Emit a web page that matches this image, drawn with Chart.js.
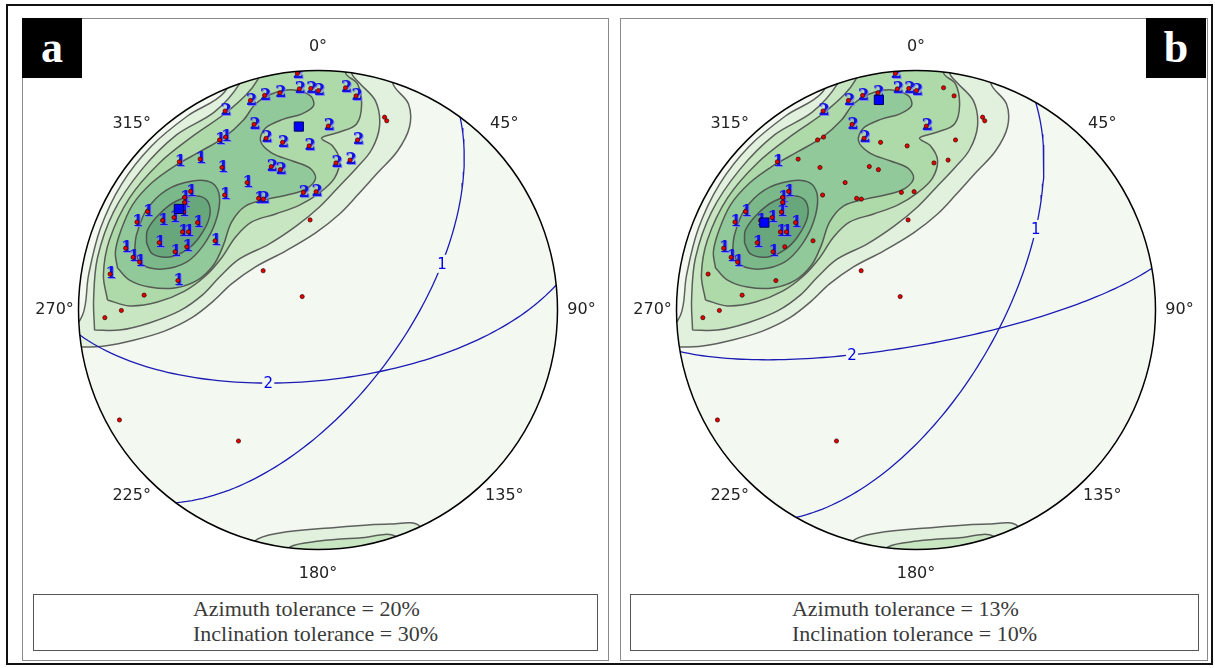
<!DOCTYPE html>
<html>
<head>
<meta charset="utf-8">
<script src="https://cdn.jsdelivr.net/npm/chart.js@4.4.1/dist/chart.umd.min.js"></script>
<style>
  body { margin:0; width:1215px; height:668px; background:#fff; position:relative; overflow:hidden; }
  .box { position:absolute; box-sizing:border-box; }
  #frame { left:6px; top:4px; width:1207px; height:661px; border:2px solid #111; }
  .panel { top:18px; height:643px; border:1px solid #8a8a8a; }
  .tag { top:18px; width:60px; height:60px; background:#000; color:#fff; font:bold 44px "Liberation Serif", serif; text-align:center; line-height:60px; }
  .note { top:594px; height:57px; border:1px solid #555; background:#fff; text-align:center; padding-top:1px; }
  .note span { display:inline-block; text-align:left; font:22px "Liberation Serif", serif; color:#3a3a3a; line-height:25px; }
  canvas { position:absolute; top:20px; }
</style>
</head>
<body>
<div class="box" id="frame"></div>
<div class="box panel" style="left:22px;width:587px"></div>
<div class="box panel" style="left:620px;width:588px"></div>
<div class="box note" style="left:33px;width:565px"><span>Azimuth tolerance = 20%<br>Inclination tolerance = 30%</span></div>
<div class="box note" style="left:630px;width:569px"><span>Azimuth tolerance = 13%<br>Inclination tolerance = 10%</span></div>
<canvas id="netA" width="580" height="580" style="left:28px"></canvas>
<canvas id="netB" width="580" height="580" style="left:626px"></canvas>
<div class="box tag" style="left:22px">a</div>
<div class="box tag" style="left:1146px">b</div>
<script>
// poles (equal-area projected, primitive radius = 1), same set in both nets
const poleX = [-0.086,-0.078,-0.030,0.002,-0.159,-0.223,-0.282,-0.388,-0.267,-0.411,-0.386,-0.217,-0.148,-0.037,0.115,0.159,0.278,0.287,0.043,0.165,0.075,0.134,-0.579,-0.492,-0.401,-0.195,-0.157,-0.296,-0.390,-0.248,-0.228,-0.061,-0.008,-0.033,-0.532,-0.557,-0.557,-0.562,-0.601,-0.649,-0.712,-0.756,-0.503,-0.566,-0.541,-0.663,-0.597,-0.548,-0.430,-0.803,-0.772,-0.745,-0.868,-0.585,-0.726,-0.821,-0.890,-0.229,-0.066,-0.829,-0.332];
const poleY = [0.988,0.923,0.925,0.916,0.907,0.896,0.875,0.831,0.775,0.710,0.722,0.717,0.700,0.685,0.928,0.894,0.805,0.790,0.768,0.710,0.614,0.626,0.619,0.630,0.595,0.599,0.586,0.532,0.480,0.466,0.463,0.491,0.494,0.376,0.495,0.470,0.449,0.409,0.386,0.374,0.411,0.367,0.365,0.326,0.326,0.281,0.243,0.264,0.289,0.258,0.220,0.200,0.150,0.123,0.062,-0.002,-0.032,0.164,0.056,-0.459,-0.547];

// cluster label of each pole (0 = not assigned)
const classA = [2,2,2,2,2,2,2,2,2, 1,1, 2,2,2, 2,2, 0,0, 2,2,2,2, 1,1,1, 2,2, 1,1,1, 2,2,2, 0,
  1,1,1,1,1,1,1,1,1,1,1,1,1,1,1,1,1,1,1,1, 0,0,0,0,0,0,0];
const classB = [2,2,2,2,2,2,2,2,2, 0,0, 2,0,0, 0,0, 0,0, 2,0,0,0, 1,0,0, 0,0, 0,0,0, 0,0,0, 0,
  1,1,1,1,1,1,1,1,1,1,1,1,1, 0,0, 1,1,1, 0,0,0,0,0,0,0,0,0];

// cluster means
const meanAX = [-0.581, -0.080], meanAY = [0.422, 0.766];
const meanBX = [-0.633, -0.155], meanBY = [0.365, 0.877];

// mean planes (strike, dip) and where their label sits (rake)
const strikeA = [36.4, 84], dipA = [60.5, 66], labelRakeA = [53, 109];
const strikeB = [30, 80], dipB = [62, 78], labelRakeB = [46, 114];

// density contours, outermost first
const contourL1 = [[-1.079,-0.150],[-0.987,-0.154],[-0.891,-0.150],[-0.766,-0.125],[-0.641,-0.088],[-0.528,-0.033],[-0.436,0.038],[-0.361,0.109],[-0.261,0.180],[-0.136,0.246],[-0.010,0.322],[0.090,0.401],[0.165,0.480],[0.248,0.572],[0.332,0.664],[0.382,0.764],[0.378,0.860],[0.311,0.952],[0.340,1.127],[-0.286,1.127],[-0.390,0.910],[-0.545,0.810],[-0.695,0.685],[-0.820,0.526],[-0.908,0.342],[-0.958,0.146],[-0.983,-0.021]];
const contourL2 = [[-0.933,-0.084],[-0.829,-0.084],[-0.704,-0.054],[-0.578,-0.004],[-0.482,0.063],[-0.411,0.138],[-0.328,0.213],[-0.203,0.276],[-0.090,0.351],[0.006,0.430],[0.090,0.518],[0.161,0.593],[0.223,0.668],[0.257,0.768],[0.240,0.873],[0.173,0.948],[0.140,0.994],[0.173,1.127],[-0.244,1.127],[-0.328,0.944],[-0.432,0.827],[-0.591,0.731],[-0.737,0.585],[-0.854,0.409],[-0.921,0.217],[-0.937,0.042]];
const contourL3 = [[-0.879,0.042],[-0.787,0.017],[-0.670,0.033],[-0.557,0.079],[-0.470,0.142],[-0.403,0.217],[-0.344,0.305],[-0.278,0.367],[-0.177,0.401],[-0.077,0.438],[0.006,0.489],[0.069,0.551],[0.090,0.626],[0.061,0.685],[0.015,0.718],[0.090,0.743],[0.161,0.777],[0.182,0.856],[0.165,0.944],[0.115,0.990],[0.111,1.127],[-0.203,1.127],[-0.253,0.960],[-0.370,0.835],[-0.516,0.731],[-0.662,0.614],[-0.787,0.468],[-0.871,0.292],[-0.896,0.146]];
const contourL4 = [[-0.837,0.175],[-0.787,0.125],[-0.704,0.096],[-0.599,0.092],[-0.503,0.125],[-0.436,0.188],[-0.395,0.271],[-0.361,0.367],[-0.303,0.434],[-0.211,0.463],[-0.111,0.484],[-0.044,0.509],[-0.010,0.551],[-0.035,0.593],[-0.106,0.622],[-0.194,0.656],[-0.240,0.706],[-0.219,0.760],[-0.144,0.797],[-0.069,0.818],[-0.019,0.852],[-0.031,0.894],[-0.102,0.919],[-0.194,0.902],[-0.261,0.860],[-0.311,0.793],[-0.390,0.722],[-0.495,0.660],[-0.599,0.601],[-0.695,0.530],[-0.775,0.438],[-0.825,0.326],[-0.846,0.242]];
const contourL5 = [[-0.766,0.242],[-0.758,0.313],[-0.716,0.418],[-0.633,0.501],[-0.524,0.539],[-0.441,0.530],[-0.411,0.472],[-0.428,0.367],[-0.478,0.271],[-0.549,0.200],[-0.649,0.171],[-0.733,0.188]];
const contourL6 = [[-0.716,0.280],[-0.712,0.334],[-0.662,0.401],[-0.591,0.455],[-0.507,0.476],[-0.461,0.455],[-0.453,0.388],[-0.495,0.305],[-0.549,0.251],[-0.620,0.221],[-0.691,0.234]];
// wrap-around of the northern maximum at the south edge
const contourS1 = [[-0.286,-1.044],[-0.265,-0.965],[-0.161,-0.931],[0.048,-0.910],[0.299,-0.894],[0.424,-0.902],[0.466,-1.044]];
const contourS2 = [[-0.140,-1.044],[-0.119,-0.990],[0.006,-0.965],[0.173,-0.952],[0.324,-0.944],[0.361,-1.044]];

const azimuthDeg = [0, 45, 90, 135, 180, 225, 270, 315];
const azimuthText = ['0°', '45°', '90°', '135°', '180°', '225°', '270°', '315°'];

const netBg = '#f3f8f1';
const levelFill = ['#e2f1de', '#c9e6c3', '#aed9a9', '#92c99a', '#7bb98b', '#67a77b'];
const L = 290 / 239.5;   // canvas half width in primitive radii
const DEG = Math.PI / 180;

// equal-area, lower hemisphere: point of a plane at a given rake
function planePoint(strike, dip, rake) {
  const s = strike * DEG, d = dip * DEG, r = rake * DEG;
  const e = Math.cos(r) * Math.sin(s) + Math.sin(r) * Math.cos(d) * Math.cos(s);
  const n = Math.cos(r) * Math.cos(s) - Math.sin(r) * Math.cos(d) * Math.sin(s);
  const plunge = Math.asin(Math.min(1, Math.sin(r) * Math.sin(d)));
  const trend = Math.atan2(e, n);
  const rho = Math.SQRT2 * Math.sin((Math.PI / 2 - plunge) / 2);
  return { x: rho * Math.sin(trend), y: rho * Math.cos(trend) };
}

function greatCircle(strike, dip) {
  const pts = [];
  for (let r = 0; r <= 180; r += 2) pts.push(planePoint(strike, dip, r));
  return pts;
}

function ring(list) {
  const pts = list.map(p => ({ x: p[0], y: p[1] }));
  pts.push({ x: list[0][0], y: list[0][1] });
  return pts;
}

const netFrame = {
  id: 'netFrame',
  beforeDatasetsDraw(chart) {
    const { ctx, scales: { x, y } } = chart;
    const cx = x.getPixelForValue(0), cy = y.getPixelForValue(0);
    const r = x.getPixelForValue(1) - cx;
    ctx.save();
    ctx.beginPath();
    ctx.arc(cx, cy, r, 0, 2 * Math.PI);
    ctx.fillStyle = netBg;
    ctx.fill();
    ctx.clip();
  },
  afterDatasetsDraw(chart) {
    const { ctx, scales: { x, y } } = chart;
    ctx.restore();
    const cx = x.getPixelForValue(0), cy = y.getPixelForValue(0);
    const r = x.getPixelForValue(1) - cx;
    ctx.save();
    ctx.beginPath();
    ctx.arc(cx, cy, r, 0, 2 * Math.PI);
    ctx.strokeStyle = '#000';
    ctx.lineWidth = 1.5;
    ctx.stroke();
    ctx.font = '16px "DejaVu Sans"';
    ctx.fillStyle = '#222';
    ctx.textAlign = 'center';
    ctx.textBaseline = 'middle';
    azimuthDeg.forEach((a, i) => {
      const px = x.getPixelForValue(1.1 * Math.sin(a * DEG));
      const py = y.getPixelForValue(1.1 * Math.cos(a * DEG));
      ctx.fillText(azimuthText[i], px, py);
    });
    ctx.restore();
  }
};

// cluster numbers under the pole markers
const poleLabels = {
  id: 'poleLabels',
  beforeDatasetDraw(chart, args) {
    const ds = chart.data.datasets[args.index];
    if (!ds.classLabels) return;
    const ctx = chart.ctx;
    ctx.save();
    ctx.font = 'bold 16px "DejaVu Serif"';
    ctx.textAlign = 'center';
    ctx.textBaseline = 'middle';
    args.meta.data.forEach((pt, i) => {
      const c = ds.classLabels[i];
      if (!c) return;
      ctx.fillStyle = 'rgba(120,120,255,0.85)';
      ctx.fillText(String(c), pt.x + 2, pt.y + 1);
      ctx.fillStyle = '#1414e0';
      ctx.fillText(String(c), pt.x + 1, pt.y);
    });
    ctx.restore();
  }
};

// inline labels on the mean planes
const planeLabels = {
  id: 'planeLabels',
  afterDatasetDraw(chart, args) {
    const ds = chart.data.datasets[args.index];
    if (!ds.planeLabel) return;
    const { ctx, scales: { x, y } } = chart;
    const px = x.getPixelForValue(ds.labelPoint.x), py = y.getPixelForValue(ds.labelPoint.y);
    ctx.save();
    ctx.fillStyle = netBg;
    ctx.fillRect(px - 6, py - 9, 12, 18);
    ctx.font = '15px "DejaVu Sans"';
    ctx.fillStyle = '#0000f0';
    ctx.textAlign = 'center';
    ctx.textBaseline = 'middle';
    ctx.fillText(ds.planeLabel, px, py + 1);
    ctx.restore();
  }
};

function buildNet(id, classes, mx, my, strikes, dips, rakes) {
  const datasets = [];
  const contours = [
    [contourL1, 0], [contourS1, 0], [contourL2, 1], [contourS2, 1],
    [contourL3, 2], [contourL4, 3], [contourL5, 4], [contourL6, 5]
  ];
  contours.forEach(([pts, lvl]) => datasets.push({
    type: 'line', data: ring(pts), fill: 'shape', backgroundColor: levelFill[lvl],
    borderColor: 'rgba(70,70,70,0.85)', borderWidth: 1.5, pointRadius: 0, tension: 0.35,
    order: 30 - lvl
  }));
  strikes.forEach((s, i) => datasets.push({
    type: 'line', data: greatCircle(s, dips[i]), fill: false, borderColor: '#1c1cb4',
    borderWidth: 1.3, pointRadius: 0, tension: 0, order: 5,
    planeLabel: String(i + 1), labelPoint: planePoint(s, dips[i], rakes[i])
  }));
  datasets.push({
    type: 'scatter', data: poleX.map((v, i) => ({ x: v, y: poleY[i] })),
    pointRadius: 2.1, backgroundColor: '#e40000', borderColor: '#3a0000', borderWidth: 0.7,
    order: 2, classLabels: classes
  });
  datasets.push({
    type: 'scatter', data: mx.map((v, i) => ({ x: v, y: my[i] })),
    pointStyle: 'rect', pointRadius: 6.5, backgroundColor: '#0000ff', borderColor: '#00005a',
    borderWidth: 1, order: 1
  });
  new Chart(document.getElementById(id), {
    type: 'scatter',
    data: { datasets },
    options: {
      responsive: false,
      animation: false,
      events: [],
      layout: { padding: 0, autoPadding: false },
      plugins: { legend: { display: false }, tooltip: { enabled: false } },
      scales: {
        x: { type: 'linear', min: -L, max: L, display: false },
        y: { type: 'linear', min: -L, max: L, display: false }
      }
    },
    plugins: [netFrame, poleLabels, planeLabels]
  });
}

buildNet('netA', classA, meanAX, meanAY, strikeA, dipA, labelRakeA);
buildNet('netB', classB, meanBX, meanBY, strikeB, dipB, labelRakeB);
</script>
</body>
</html>
